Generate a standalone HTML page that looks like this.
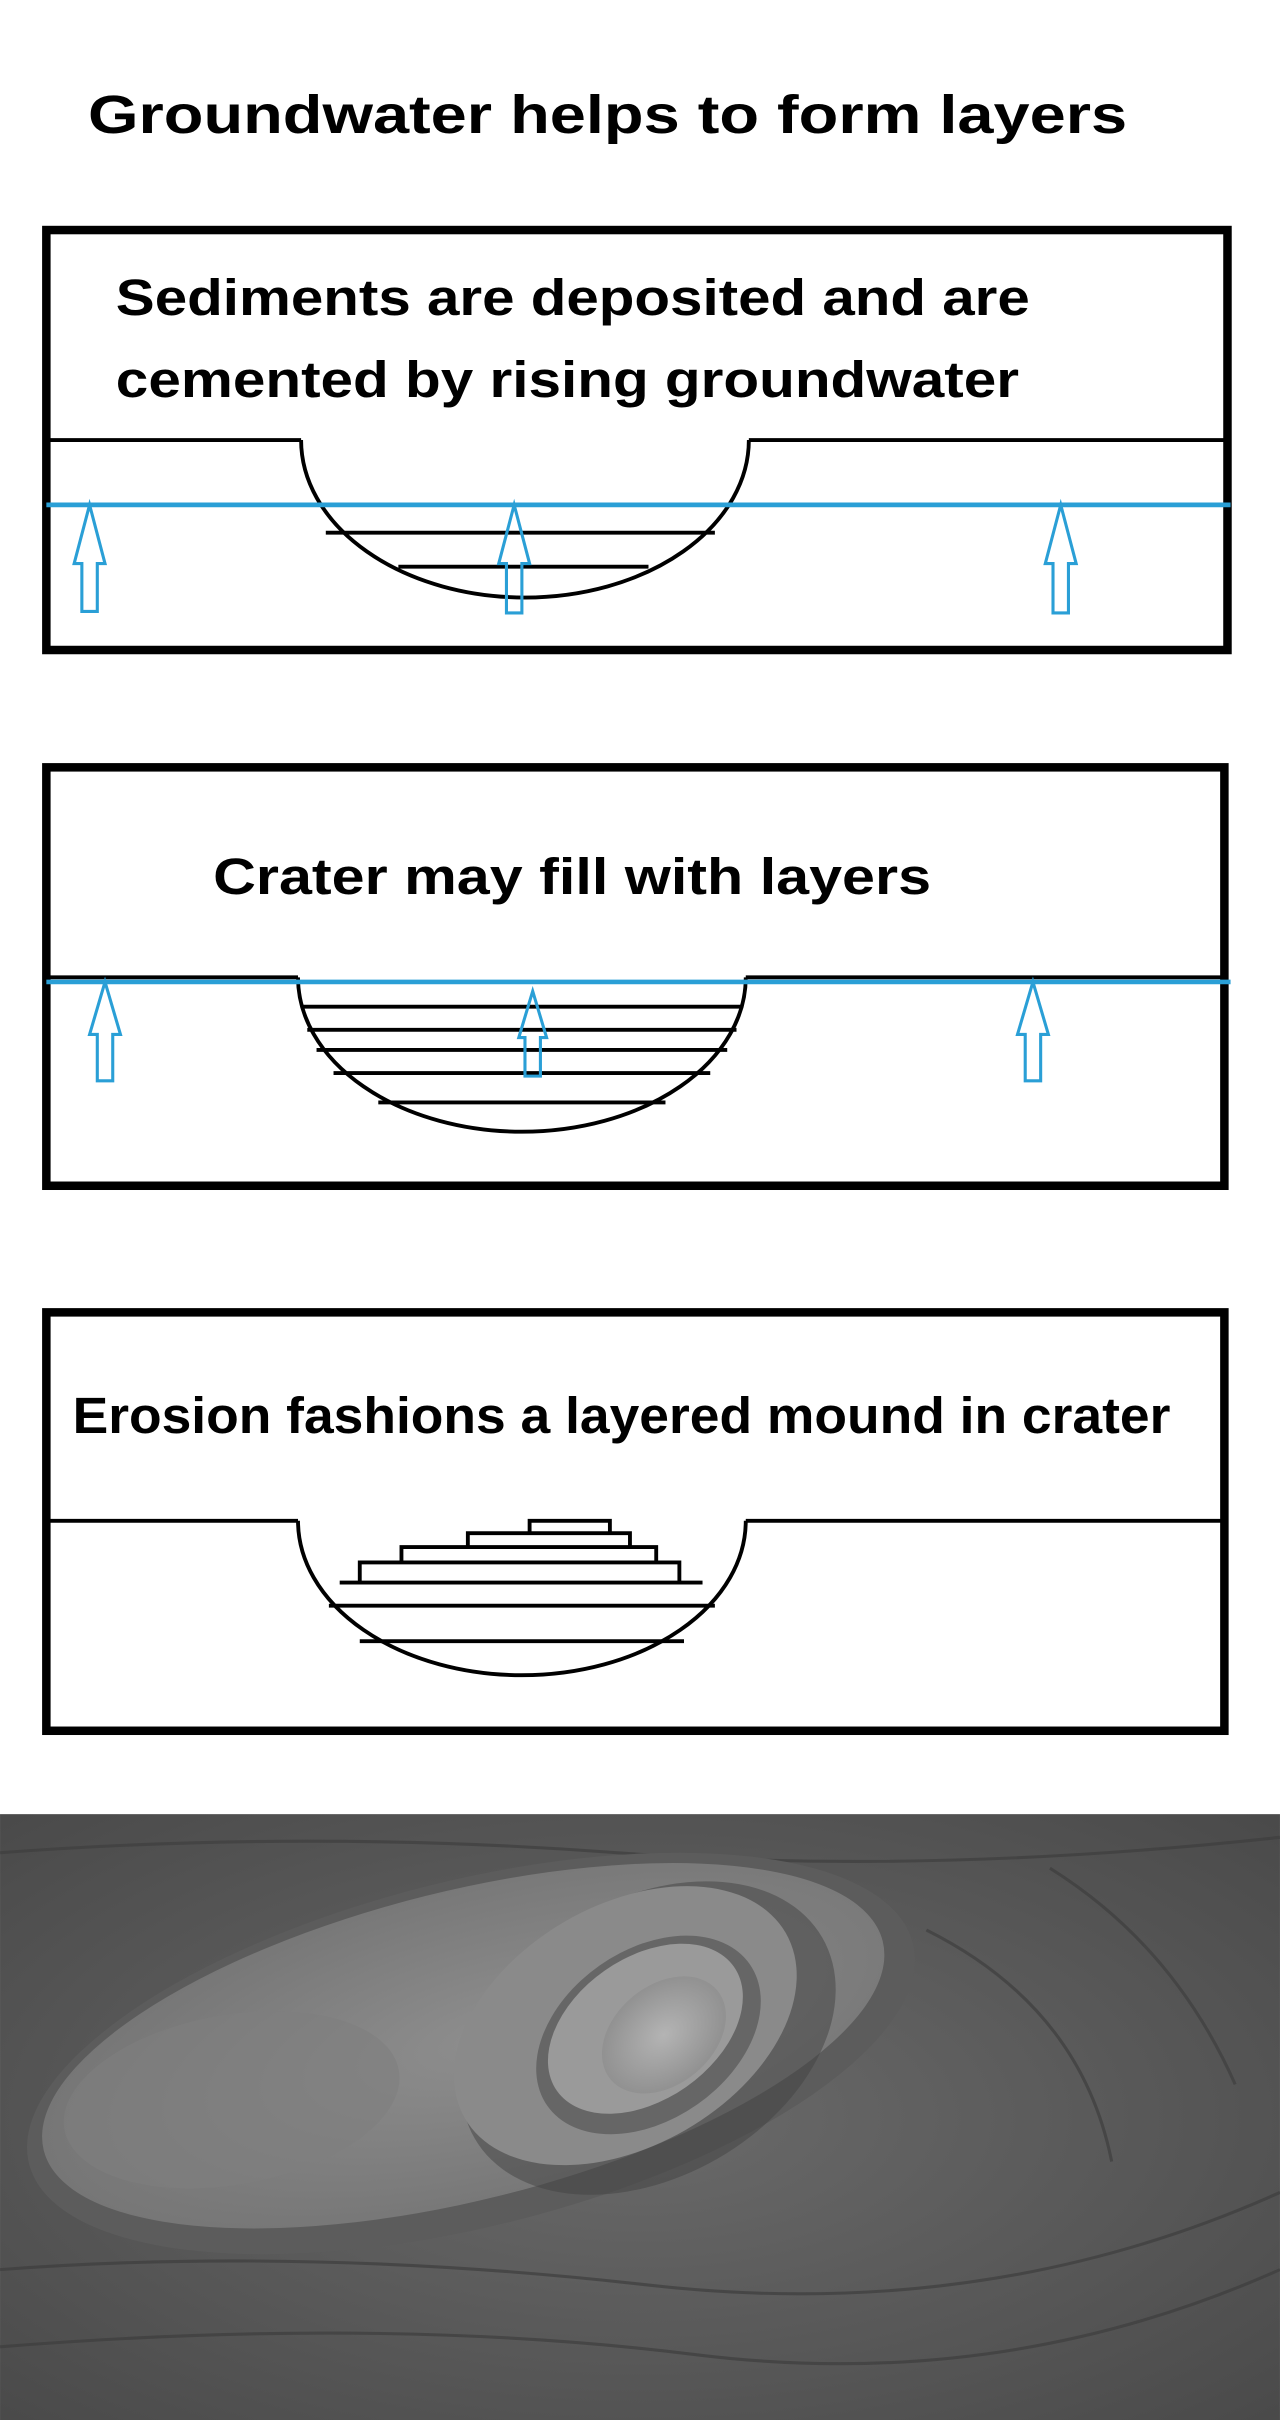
<!DOCTYPE html>
<html><head><meta charset="utf-8"><style>
html,body{margin:0;padding:0;background:#fff;}
svg{display:block;}
text{font-family:"Liberation Sans",sans-serif;font-weight:bold;fill:#000;}
</style></head><body>
<svg width="1280" height="2420" viewBox="0 0 829 1567.4" xmlns="http://www.w3.org/2000/svg">
<defs>
<radialGradient id="bg" cx="0.5" cy="0.5" r="0.7">
<stop offset="0" stop-color="#6a6a6a"/><stop offset="1" stop-color="#4a4a4a"/></radialGradient>
<radialGradient id="mound" cx="0.55" cy="0.5" r="0.6">
<stop offset="0" stop-color="#8e8e8e"/><stop offset="1" stop-color="#747474"/></radialGradient>
<radialGradient id="top" cx="0.5" cy="0.5" r="0.6">
<stop offset="0" stop-color="#b4b4b4"/><stop offset="1" stop-color="#8a8a8a"/></radialGradient>
</defs>
<text x="57" y="86" font-size="35" textLength="673" lengthAdjust="spacingAndGlyphs">Groundwater helps to form layers</text>

<g fill="none" stroke="#000">
<rect x="30" y="149" width="765" height="272" stroke-width="5.5"/>
<path d="M30 285 H195 M485 285 H795" stroke-width="2.5"/>
<path d="M195 285 A145 102 0 0 0 485 285" stroke-width="2.5"/>
<line x1="211" y1="345" x2="463" y2="345" stroke-width="2.5"/>
<line x1="258" y1="367" x2="420" y2="367" stroke-width="2.5"/>
</g>
<text x="75" y="204" font-size="33" textLength="592" lengthAdjust="spacingAndGlyphs">Sediments are deposited and are</text>
<text x="75" y="257" font-size="33" textLength="585" lengthAdjust="spacingAndGlyphs">cemented by rising groundwater</text>
<g fill="none" stroke="#2a9fd6" stroke-width="2">
<line x1="30" y1="327" x2="797" y2="327" stroke-width="3"/>
<path d="M58 327 L68 365 H63 V396 H53 V365 H48 Z"/>
<path d="M333 327 L343 365 H338 V397 H328 V365 H323 Z"/>
<path d="M687 327 L697 365 H692 V397 H682 V365 H677 Z"/>
</g>

<g fill="none" stroke="#000">
<rect x="30" y="497" width="763" height="271" stroke-width="5.5"/>
<path d="M30 633 H193 M483 633 H795" stroke-width="2.5"/>
<path d="M193 633 A145 100 0 0 0 483 633" stroke-width="2.5"/>
<line x1="195" y1="652" x2="481" y2="652" stroke-width="2.5"/>
<line x1="199" y1="667" x2="477" y2="667" stroke-width="2.5"/>
<line x1="205" y1="680" x2="471" y2="680" stroke-width="2.5"/>
<line x1="216" y1="695" x2="460" y2="695" stroke-width="2.5"/>
<line x1="245" y1="714" x2="431" y2="714" stroke-width="2.5"/>
</g>
<text x="138" y="579" font-size="33" textLength="465" lengthAdjust="spacingAndGlyphs">Crater may fill with layers</text>
<g fill="none" stroke="#2a9fd6" stroke-width="2">
<line x1="30" y1="636" x2="797" y2="636" stroke-width="3"/>
<path d="M68 636 L78 670 H73 V700 H63 V670 H58 Z"/>
<path d="M345 642 L354 672 H350 V697 H340 V672 H336 Z"/>
<path d="M669 636 L679 670 H674 V700 H664 V670 H659 Z"/>
</g>

<g fill="none" stroke="#000">
<rect x="30" y="850" width="763" height="271" stroke-width="5.5"/>
<path d="M30 985 H193 M483 985 H795" stroke-width="2.5"/>
<path d="M193 985 A145 100 0 0 0 483 985" stroke-width="2.5"/>
<path d="M343 993 V985 H395 V993 M303 1002 V993 H408 V1002 M260 1012 V1002 H425 V1012 M233 1025 V1012 H440 V1025 M220 1025 H455" stroke-width="2.5"/>
<line x1="213" y1="1040" x2="463" y2="1040" stroke-width="2.5"/>
<line x1="233" y1="1063" x2="443" y2="1063" stroke-width="2.5"/>
</g>
<text x="47" y="928" font-size="33" textLength="711" lengthAdjust="spacingAndGlyphs">Erosion fashions a layered mound in crater</text>

<rect x="0" y="1175" width="829" height="393" fill="url(#bg)"/>
<g stroke="#3e3e3e" stroke-width="2" fill="none" opacity="0.7">
<path d="M0 1200 Q200 1185 400 1200 T829 1190"/>
<path d="M0 1470 Q200 1455 420 1480 T829 1420"/>
<path d="M0 1520 Q250 1500 450 1525 T829 1470"/>
<path d="M600 1250 Q700 1300 720 1400"/>
<path d="M680 1210 Q760 1260 800 1350"/>
</g>
<ellipse cx="305" cy="1330" rx="295" ry="112" transform="rotate(-14 305 1330)" fill="#5c5c5c"/>
<ellipse cx="300" cy="1325" rx="280" ry="100" transform="rotate(-14 300 1325)" fill="url(#mound)"/>
<ellipse cx="420" cy="1320" rx="130" ry="90" transform="rotate(-30 420 1320)" fill="#424242" opacity="0.5"/>
<ellipse cx="405" cy="1312" rx="120" ry="78" transform="rotate(-30 405 1312)" fill="#8a8a8a"/>
<ellipse cx="420" cy="1318" rx="80" ry="55" transform="rotate(-35 420 1318)" fill="#666"/>
<ellipse cx="418" cy="1314" rx="70" ry="46" transform="rotate(-35 418 1314)" fill="#9a9a9a"/>
<ellipse cx="430" cy="1318" rx="45" ry="32" transform="rotate(-40 430 1318)" fill="url(#top)"/>
<ellipse cx="150" cy="1360" rx="110" ry="55" transform="rotate(-10 150 1360)" fill="#7e7e7e" opacity="0.6"/>
</svg>
</body></html>
